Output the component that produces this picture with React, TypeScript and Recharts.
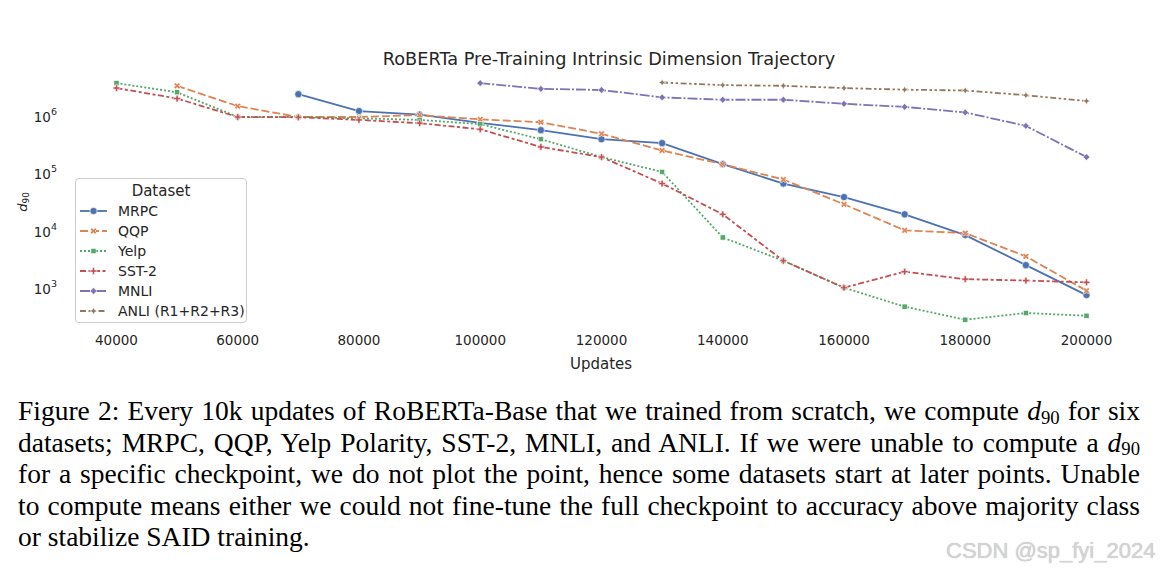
import React from "react";
import { Legend, Line, LineChart, XAxis, YAxis } from "recharts";

// x positions (training updates)
const updates = [
  40000, 50000, 60000, 70000, 80000, 90000, 100000, 110000, 120000, 130000,
  140000, 150000, 160000, 170000, 180000, 190000, 200000,
];

// d90 per dataset, null = could not be computed
const mrpc = [null, null, null, 2.5e6, 1.27e6, 1.1e6, 7.9e5, 5.9e5, 4.1e5, 3.5e5, 1.5e5, 6.9e4, 4.0e4, 2.0e4, 8.7e3, 2.6e3, 7.8e2];
const qqp = [null, 3.5e6, 1.55e6, 1.0e6, 1.0e6, 1.08e6, 9.1e5, 8.1e5, 5.1e5, 2.6e5, 1.5e5, 8.1e4, 3.0e4, 1.05e4, 9.4e3, 3.7e3, 9.3e2];
const yelp = [3.9e6, 2.7e6, 1.0e6, 1.0e6, 9.5e5, 8.9e5, 7.5e5, 4.1e5, 2.0e5, 1.1e5, 7.9e3, 3.1e3, 1.05e3, 4.9e2, 2.9e2, 3.8e2, 3.4e2];
const sst2 = [3.2e6, 2.1e6, 1.0e6, 9.9e5, 8.9e5, 7.8e5, 6.1e5, 3.0e5, 2.0e5, 6.9e4, 2.0e4, 3.1e3, 1.05e3, 2.0e3, 1.48e3, 1.4e3, 1.3e3];
const mnli = [null, null, null, null, null, null, 3.9e6, 3.1e6, 2.96e6, 2.2e6, 2.0e6, 2.0e6, 1.7e6, 1.5e6, 1.2e6, 7.0e5, 2.0e5];
const anli = [null, null, null, null, null, null, null, null, null, 4.0e6, 3.6e6, 3.5e6, 3.2e6, 3.0e6, 2.9e6, 2.4e6, 1.9e6];

const xTicks = [40000, 60000, 80000, 100000, 120000, 140000, 160000, 180000, 200000];
const yTicks = [1e3, 1e4, 1e5, 1e6];

const FONT = "'DejaVu Sans', sans-serif";
const INK = "#262626";

type Shape = "circle" | "x" | "square" | "plus" | "diamond" | "star";

const series: {
  key: string;
  name: string;
  values: (number | null)[];
  color: string;
  dash?: string;
  shape: Shape;
}[] = [
  { key: "mrpc", name: "MRPC", values: mrpc, color: "#4c72b0", shape: "circle" },
  { key: "qqp", name: "QQP", values: qqp, color: "#dd8452", dash: "8 3", shape: "x" },
  { key: "yelp", name: "Yelp", values: yelp, color: "#55a868", dash: "2 2", shape: "square" },
  { key: "sst2", name: "SST-2", values: sst2, color: "#c44e52", dash: "6 2.5 3 2.5", shape: "plus" },
  { key: "mnli", name: "MNLI", values: mnli, color: "#8172b3", dash: "10 2 2 2", shape: "diamond" },
  { key: "anli", name: "ANLI (R1+R2+R3)", values: anli, color: "#937860", dash: "6 2.5 2.5 2.5 2.5 2.5", shape: "star" },
];

const rows = updates.map((u, i) => {
  const r: Record<string, number | null> = { updates: u };
  series.forEach((s) => (r[s.key] = s.values[i]));
  return r;
});

const pts = (arr: number[][]) => arr.map((p) => p.join(",")).join(" ");

function Marker({ shape, cx, cy, color }: { shape: Shape; cx: number; cy: number; color: string }) {
  const common = { fill: color, stroke: "#fff", strokeWidth: 0.6 };
  if (shape === "circle") return <circle cx={cx} cy={cy} r={3.6} {...common} />;
  if (shape === "square") return <rect x={cx - 2.6} y={cy - 2.6} width={5.2} height={5.2} {...common} />;
  if (shape === "diamond")
    return <polygon points={pts([[cx, cy - 3.4], [cx + 3.4, cy], [cx, cy + 3.4], [cx - 3.4, cy]])} {...common} />;
  if (shape === "star") {
    const o = 3.6, n = 1.2;
    return (
      <polygon
        points={pts([
          [cx, cy - o], [cx + n, cy - n], [cx + o, cy], [cx + n, cy + n],
          [cx, cy + o], [cx - n, cy + n], [cx - o, cy], [cx - n, cy - n],
        ])}
        {...common}
      />
    );
  }
  // plus / x share the same cross outline
  const s = 3.4, w = 1.1;
  const base = [
    [-w, -s], [w, -s], [w, -w], [s, -w], [s, w], [w, w],
    [w, s], [-w, s], [-w, w], [-s, w], [-s, -w], [-w, -w],
  ];
  const a = shape === "x" ? Math.PI / 4 : 0;
  const p = base.map(([x, y]) => [
    cx + x * Math.cos(a) - y * Math.sin(a),
    cy + x * Math.sin(a) + y * Math.cos(a),
  ]);
  return <polygon points={pts(p)} {...common} />;
}

const LogTick = (props: any) => {
  const { x, y, payload } = props;
  const exp = Math.round(Math.log10(payload.value));
  return (
    <text x={x} y={y + 5} textAnchor="end" fontSize={13.5} fill={INK} fontFamily={FONT}>
      <tspan>10</tspan>
      <tspan dy={-7} fontSize={9.5}>{exp}</tspan>
    </text>
  );
};

const renderLegend = () => (
  <div
    style={{
      width: 172,
      height: 145,
      boxSizing: "border-box",
      border: "1px solid #cccccc",
      borderRadius: 4,
      background: "rgba(255,255,255,0.8)",
      fontFamily: FONT,
      color: INK,
    }}
  >
    <div style={{ height: 22, lineHeight: "24px", textAlign: "center", fontSize: 15 }}>Dataset</div>
    {series.map((s) => (
      <div key={s.key} style={{ display: "flex", alignItems: "center", height: 20 }}>
        <svg width={30} height={20} style={{ marginLeft: 3 }}>
          <line x1={1} x2={28} y1={10} y2={10} stroke={s.color} strokeWidth={1.8} strokeDasharray={s.dash} />
          <Marker shape={s.shape} cx={14.5} cy={10} color={s.color} />
        </svg>
        <span style={{ marginLeft: 9, fontSize: 14 }}>{s.name}</span>
      </div>
    ))}
  </div>
);

function Sub({ children }: { children: React.ReactNode }) {
  return <span style={{ fontSize: "0.68em", position: "relative", top: "0.2em", lineHeight: 0 }}>{children}</span>;
}

const captionLines = [
  <>Figure 2: Every 10k updates of RoBERTa-Base that we trained from scratch, we compute <i>d</i><Sub>90</Sub> for six</>,
  <>datasets; MRPC, QQP, Yelp Polarity, SST-2, MNLI, and ANLI. If we were unable to compute a <i>d</i><Sub>90</Sub></>,
  <>for a specific checkpoint, we do not plot the point, hence some datasets start at later points. Unable</>,
  <>to compute means either we could not fine-tune the full checkpoint to accuracy above majority class</>,
  <>or stabilize SAID training.</>,
];

export default function App() {
  return (
    <div style={{ position: "absolute", left: 0, top: 0, width: 1160, height: 571, background: "#fff", overflow: "hidden" }}>
      <div style={{ position: "absolute", left: 0, top: 0 }}>
        <LineChart width={1160} height={380} data={rows} margin={{ top: 71, right: 25, left: 8, bottom: 8 }}>
          <XAxis
            dataKey="updates"
            type="number"
            domain={[32000, 208000]}
            ticks={xTicks}
            axisLine={false}
            tickLine={false}
            tickSize={0}
            tickMargin={3}
            height={40}
            tick={{ fontSize: 13.5, fill: INK, fontFamily: FONT }}
          />
          <YAxis
            type="number"
            scale="log"
            domain={[177, 6.35e6]}
            allowDataOverflow
            ticks={yTicks}
            axisLine={false}
            tickLine={false}
            tickSize={0}
            tickMargin={11}
            width={60}
            tick={<LogTick />}
          />
          <Legend
            verticalAlign="middle"
            layout="horizontal"
            content={renderLegend}
            wrapperStyle={{ left: 75, top: 178, width: 172 }}
          />
          {series.map((s) => (
            <Line
              key={s.key}
              dataKey={s.key}
              name={s.name}
              type="linear"
              stroke={s.color}
              strokeWidth={1.8}
              strokeDasharray={s.dash}
              isAnimationActive={false}
              activeDot={false}
              dot={(p: any) =>
                p.cy == null || p.value == null ? (
                  <g key={`${s.key}-${p.index}`} />
                ) : (
                  <Marker key={`${s.key}-${p.index}`} shape={s.shape} cx={p.cx} cy={p.cy} color={s.color} />
                )
              }
            />
          ))}
        </LineChart>
      </div>

      <div style={{ position: "absolute", left: 609, top: 59, transform: "translate(-50%,-50%)", fontFamily: FONT, fontSize: 17.7, color: INK, whiteSpace: "nowrap" }}>
        RoBERTa Pre-Training Intrinsic Dimension Trajectory
      </div>
      <div style={{ position: "absolute", left: 601, top: 364, transform: "translate(-50%,-50%)", fontFamily: FONT, fontSize: 15, color: INK, whiteSpace: "nowrap" }}>
        Updates
      </div>
      <div style={{ position: "absolute", left: 22, top: 202, transform: "translate(-50%,-50%) rotate(-90deg)", fontFamily: FONT, fontSize: 13, color: INK, whiteSpace: "nowrap" }}>
        <i>d</i><Sub>90</Sub>
      </div>

      <div style={{ position: "absolute", left: 18, top: 395, width: 1122, fontFamily: "'Liberation Serif', serif", fontSize: 27.5, lineHeight: "31.5px", color: "#000" }}>
        {captionLines.map((l, i) => (
          <div key={i} style={{ textAlign: "justify", textAlignLast: i < captionLines.length - 1 ? "justify" : "left", whiteSpace: "nowrap" }}>
            {l}
          </div>
        ))}
      </div>

      <div style={{ position: "absolute", left: 946, top: 538, fontFamily: "'Liberation Sans', Arial, sans-serif", fontSize: 22, color: "#d4d4d4", textShadow: "0 0 1px #b8b8b8", whiteSpace: "nowrap" }}>
        CSDN @sp_fyi_2024
      </div>
    </div>
  );
}
